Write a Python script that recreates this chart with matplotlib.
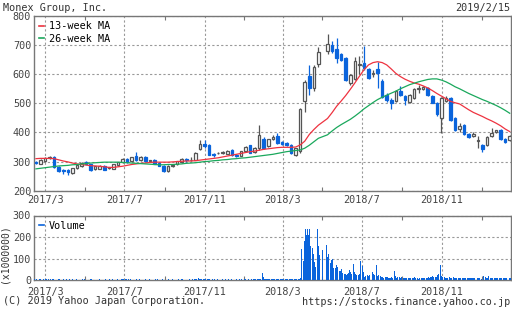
import numpy as np
import pandas as pd
import matplotlib
matplotlib.use("Agg")
import matplotlib.pyplot as plt
import matplotlib.dates as mdates
from matplotlib.lines import Line2D

plt.rcParams['font.family'] = ['DejaVu Sans Mono']

# weekly candles, one per week (Golden Week 2018 has none)
weeks = pd.date_range("2017-02-15", "2019-02-13", freq="7D")
weeks = weeks[weeks != pd.Timestamp("2018-05-02")]

opens = [300, 293, 302, 312, 315, 283, 272, 272, 261, 278,
         286, 297, 290, 273, 276, 286, 277, 276, 288, 298,
         309, 301, 319, 305, 316, 301, 305, 295, 286, 267,
         285, 290, 298, 309, 305, 307, 342, 362, 357, 325,
         328, 329, 327, 339, 322, 320, 336, 356, 333, 345,
         378, 352, 379, 387, 366, 364, 357, 323, 335, 509,
         593, 552, 635, 679, 702, 688, 668, 656, 570, 585,
         633, 638, 618, 600, 618, 578, 530, 513, 507, 543,
         524, 505, 519, 548, 551, 553, 524, 502, 451, 508,
         519, 451, 411, 426, 394, 389, 372, 358, 358, 389,
         403, 408, 377, 374]
highs = [302, 309, 316, 318, 318, 285, 274, 274, 279, 290,
         299, 301, 292, 286, 287, 289, 282, 292, 300, 312,
         311, 317, 334, 318, 318, 307, 308, 297, 288, 288,
         290, 303, 311, 311, 316, 334, 374, 375, 359, 331,
         333, 336, 341, 342, 325, 338, 352, 358, 350, 425,
         383, 378, 390, 398, 369, 368, 360, 348, 484, 580,
         633, 633, 693, 737, 715, 725, 672, 660, 600, 658,
         662, 697, 622, 615, 643, 582, 536, 517, 546, 558,
         528, 531, 553, 564, 560, 557, 527, 505, 522, 525,
         522, 453, 434, 430, 397, 400, 389, 362, 387, 415,
         410, 412, 380, 392]
lows = [293, 290, 299, 309, 279, 265, 258, 255, 258, 275,
        283, 291, 268, 271, 273, 270, 274, 274, 286, 296,
        296, 299, 303, 303, 299, 299, 291, 284, 265, 265,
        283, 288, 296, 300, 303, 305, 340, 348, 322, 315,
        325, 327, 325, 320, 315, 318, 334, 328, 331, 340,
        344, 349, 375, 360, 357, 352, 327, 318, 330, 472,
        529, 541, 624, 670, 672, 640, 645, 578, 562, 580,
        600, 615, 584, 592, 553, 519, 505, 479, 503, 525,
        493, 502, 515, 536, 545, 525, 500, 458, 397, 503,
        440, 405, 400, 392, 381, 385, 347, 333, 355, 386,
        398, 374, 365, 370]
closes = [295, 307, 313, 315, 281, 268, 266, 265, 277, 288,
          296, 293, 271, 284, 284, 272, 280, 290, 298, 310,
          299, 315, 305, 316, 301, 305, 293, 286, 267, 286,
          288, 301, 309, 307, 307, 330, 360, 355, 324, 322,
          331, 333, 338, 322, 318, 336, 350, 331, 347, 390,
          346, 376, 386, 364, 361, 356, 329, 345, 480, 573,
          552, 624, 677, 705, 679, 656, 650, 581, 598, 645,
          636, 620, 586, 603, 605, 521, 510, 502, 543, 528,
          513, 528, 550, 552, 555, 528, 502, 462, 519, 517,
          442, 408, 421, 394, 383, 394, 375, 343, 385, 399,
          407, 377, 368, 389]

ma13 = [310, 311, 311, 311, 310, 306, 302, 299, 295, 292,
        290, 288, 286, 285, 284, 282, 280, 280, 282, 284,
        287, 290, 292, 294, 295, 297, 298, 298, 298, 298,
        299, 300, 301, 302, 302, 303, 305, 307, 309, 311,
        313, 316, 319, 322, 325, 328, 331, 334, 336, 339,
        342, 344, 346, 348, 349, 349, 349, 350, 357, 370,
        393, 410, 425, 448, 468, 490, 508, 527, 548, 570,
        593, 615, 632, 640, 643, 640, 632, 618, 603, 592,
        583, 576, 570, 566, 560, 553, 544, 534, 525, 516,
        507, 502, 498, 488, 478, 469, 462, 455, 447, 440,
        432, 423, 412, 403]
ma26 = [275, 277, 279, 281, 283, 285, 286, 287, 289, 290,
        292, 293, 295, 296, 297, 298, 298, 298, 298, 297,
        296, 295, 294, 293, 292, 291, 290, 289, 289, 290,
        290, 291, 292, 294, 295, 296, 298, 300, 301, 303,
        304, 306, 307, 309, 310, 312, 313, 315, 317, 319,
        321, 323, 325, 328, 331, 334, 336, 338, 340, 346,
        356, 368, 380, 392, 405, 417, 427, 436, 445, 456,
        468, 481, 492, 503, 513, 521, 528, 535, 542, 550,
        557, 564, 569, 574, 578, 582, 584, 584, 580, 574,
        566, 557, 550, 542, 534, 527, 520, 513, 507, 500,
        493, 485, 476, 466]

# daily volume (x1000000), one row per week Mon..Fri
vol_days = pd.bdate_range("2017-02-13", "2019-02-15")
volume_weeks = [
    [4, 3, 3, 4, 3], [3, 4, 5, 3, 3], [4, 3, 3, 5, 4], [6, 4, 3, 3, 4], [5, 4, 3, 3, 3],
    [3, 4, 3, 4, 3], [3, 3, 4, 3, 3], [4, 3, 3, 3, 4], [3, 3, 4, 3, 3], [3, 4, 3, 3, 3],
    [3, 3, 3, 4, 3], [4, 3, 3, 3, 3], [3, 3, 4, 3, 4], [3, 3, 3, 3, 3], [3, 4, 3, 3, 3],
    [3, 3, 3, 3, 4], [3, 3, 3, 4, 3], [4, 3, 3, 3, 3], [3, 3, 4, 3, 3], [4, 3, 5, 4, 3],
    [6, 4, 3, 3, 4], [3, 4, 3, 3, 3], [3, 3, 4, 3, 3], [4, 3, 3, 3, 3], [3, 3, 3, 4, 3],
    [3, 4, 3, 3, 3], [3, 3, 3, 3, 4], [4, 3, 3, 3, 3], [3, 4, 3, 3, 3], [3, 3, 3, 4, 3],
    [3, 3, 4, 3, 3], [3, 3, 3, 3, 4], [3, 4, 3, 4, 3], [3, 3, 3, 3, 3], [4, 3, 3, 3, 4],
    [5, 6, 4, 4, 5], [9, 7, 6, 5, 5], [8, 6, 5, 4, 4], [5, 4, 4, 3, 3], [4, 3, 3, 3, 4],
    [3, 4, 3, 3, 3], [3, 3, 4, 3, 3], [4, 3, 3, 3, 4], [3, 4, 3, 3, 3], [3, 3, 4, 3, 3],
    [4, 3, 3, 4, 3], [3, 4, 4, 3, 3], [4, 3, 3, 3, 4], [4, 4, 5, 4, 6], [5, 4, 4, 5, 6],
    [35, 14, 8, 6, 5], [6, 5, 5, 4, 5], [5, 4, 4, 5, 4], [6, 5, 4, 5, 4], [5, 4, 4, 4, 5],
    [4, 5, 4, 4, 4], [5, 4, 5, 4, 4], [4, 5, 4, 5, 6], [6, 7, 8, 12, 143], [89, 130, 180, 236, 211],
    [236, 211, 236, 219, 160], [149, 120, 108, 85, 60], [48, 236, 159, 119, 90], [0, 100, 142, 0, 0], [162, 85, 110, 72, 120],
    [80, 95, 100, 65, 55], [58, 54, 69, 60, 42], [42, 43, 54, 39, 35], [30, 28, 31, 26, 30], [35, 46, 30, 39, 28],
    [74, 40, 31, 30, 26], [26, 24, 30, 35, 88], [66, 40, 20, 15, 18], [23, 20, 18, 22, 26], [0, 39, 30, 31, 25],
    [72, 30, 20, 22, 23], [18, 15, 14, 15, 12], [15, 14, 13, 14, 12], [12, 11, 13, 15, 12], [42, 20, 15, 12, 14],
    [14, 12, 10, 11, 13], [12, 10, 11, 9, 10], [11, 12, 10, 9, 11], [10, 12, 13, 10, 9], [9, 10, 8, 11, 9],
    [10, 9, 11, 8, 10], [12, 10, 9, 13, 11], [14, 16, 12, 20, 15], [14, 13, 16, 23, 30], [72, 35, 18, 14, 12],
    [15, 12, 10, 11, 9], [14, 12, 11, 10, 12], [13, 11, 10, 12, 9], [12, 10, 11, 9, 10], [10, 12, 9, 11, 10],
    [12, 10, 11, 10, 9], [9, 11, 10, 8, 9], [0, 10, 12, 9, 11], [8, 0, 0, 12, 20], [14, 10, 11, 12, 20],
    [0, 11, 9, 10, 12], [10, 12, 11, 11, 9], [9, 10, 11, 10, 12], [11, 10, 10, 9, 11], [0, 10, 12, 9, 11],
]
volume = np.ravel(volume_weeks)

BLUE = "#0a64dc"
GRAY = "#555555"
RED = "#ee3340"
GREEN = "#1aa85c"
TXT = "#333333"

W, H = 512, 310
fig = plt.figure(figsize=(W / 100, H / 100), dpi=100)
ax = fig.add_axes([34 / W, 1 - 190.7 / H, (510.7 - 34) / W, (190.7 - 16) / H])
axv = fig.add_axes([34 / W, 1 - 280.3 / H, (510.7 - 34) / W, (280.3 - 215.5) / H])

o, h, l, c = map(np.array, (opens, highs, lows, closes))
up = c >= o
dn = ~up
ax.vlines(weeks[up], l[up], h[up], color=GRAY, lw=0.9, zorder=2)
ax.vlines(weeks[dn], l[dn], h[dn], color=BLUE, lw=0.9, zorder=2)
ax.bar(weeks[up], c[up] - o[up], bottom=o[up], width=4.0,
       facecolor="white", edgecolor=GRAY, lw=0.9, zorder=3)
ax.bar(weeks[dn], o[dn] - c[dn], bottom=c[dn], width=4.0,
       facecolor=BLUE, edgecolor=BLUE, lw=0.9, zorder=3)
ax.plot(weeks, ma13, color=RED, lw=0.9, zorder=4)
ax.plot(weeks, ma26, color=GREEN, lw=0.9, zorder=4)

axv.bar(vol_days, volume, width=1.5, color=BLUE, lw=0, zorder=3)

xmin, xmax = pd.Timestamp("2017-02-12"), pd.Timestamp("2019-02-14 12:00")
for a, (lo, hi), yt in ((ax, (200, 800), range(200, 801, 100)),
                        (axv, (0, 300), range(0, 301, 100))):
    a.set_xlim(xmin, xmax)
    a.set_ylim(lo, hi)
    a.set_yticks(list(yt))
    a.xaxis.set_major_locator(mdates.MonthLocator(bymonth=[3, 7, 11]))
    a.xaxis.set_minor_locator(mdates.MonthLocator(bymonth=[1, 5, 9]))
    a.xaxis.set_major_formatter(plt.FuncFormatter(
        lambda v, p: "{}/{}".format(mdates.num2date(v).year, mdates.num2date(v).month)))
    a.grid(True, which="major", color="#999999", ls=(0, (2, 2)), lw=0.8)
    a.tick_params(axis="both", which="major", length=0, labelsize=7.3,
                  labelcolor="#444444", pad=2)
    a.tick_params(axis="x", which="minor", direction="in", length=3,
                  top=True, bottom=True, color="#777777", width=0.8)
    for s in a.spines.values():
        s.set_color("#777777")
        s.set_linewidth(1.0)
    a.set_axisbelow(True)
ax.tick_params(axis="x", which="major", pad=3)
axv.tick_params(axis="x", which="major", pad=4.5)

ax.legend(handles=[Line2D([], [], color=RED, lw=1.2),
                   Line2D([], [], color=GREEN, lw=1.2)],
          labels=["13-week MA", "26-week MA"], loc="upper left",
          frameon=False, fontsize=7.3, handlelength=0.5, handletextpad=0.5,
          labelspacing=0.25, borderaxespad=0.3, borderpad=0.2)
axv.legend(handles=[Line2D([], [], color=BLUE, lw=1.2)], labels=["Volume"],
           loc="upper left", frameon=False, fontsize=7.3, handlelength=0.5,
           handletextpad=0.5, borderaxespad=0.3, borderpad=0.2)

fig.text(3 / W, 1 - 8 / H, "Monex Group, Inc.", fontsize=7.3, color=TXT, va="center")
fig.text(510 / W, 1 - 8 / H, "2019/2/15", fontsize=7.3, color=TXT, va="center", ha="right")
fig.text(5 / W, 1 - 254 / H, "(x1000000)", fontsize=7.0, color=TXT, va="center",
         ha="center", rotation=90)
fig.text(3 / W, 1 - 301 / H, "(C) 2019 Yahoo Japan Corporation.", fontsize=7.3,
         color=TXT, va="center")
fig.text(510 / W, 1 - 302 / H, "https://stocks.finance.yahoo.co.jp", fontsize=7.3,
         color=TXT, va="center", ha="right")

fig.savefig("out.png", dpi=100)
